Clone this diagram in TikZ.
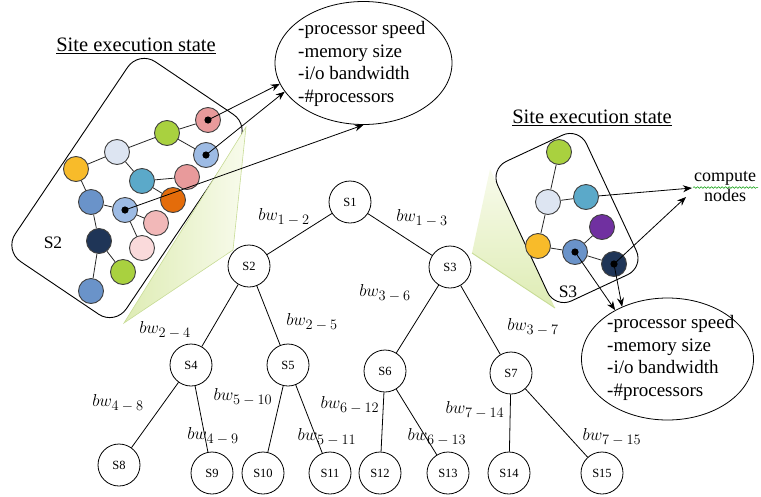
\documentclass[tikz,border=0pt]{standalone}
\usepackage{fontspec}
\setmainfont{Liberation Serif}
\usetikzlibrary{arrows.meta,shapes.geometric,decorations.pathmorphing}

\definecolor{cPink}{RGB}{232,154,155}
\definecolor{cGreen}{RGB}{169,209,63}
\definecolor{cDotBlue}{RGB}{157,187,228}
\definecolor{cPaleBlue}{RGB}{221,229,242}
\definecolor{cYellow}{RGB}{248,187,42}
\definecolor{cTeal}{RGB}{91,169,201}
\definecolor{cMidBlue}{RGB}{106,147,201}
\definecolor{cOrange}{RGB}{228,108,10}
\definecolor{cLightPink}{RGB}{242,184,184}
\definecolor{cNavy}{RGB}{31,53,87}
\definecolor{cPalePink}{RGB}{250,218,219}
\definecolor{cPurple}{RGB}{112,48,160}
\definecolor{gDeep}{RGB}{222,236,180}
\definecolor{gPale}{RGB}{248,251,236}
\definecolor{gEdge}{RGB}{200,220,150}

% bandwidth label: italic bw with a subscript pair
\newcommand{\bwl}[2]{$bw_{\mbox{\fontsize{14}{14}\selectfont$#1-#2$}}$}

\begin{document}
\begin{tikzpicture}[x=1pt,y=-1pt,
  tnode/.style={circle,draw,line width=0.8pt,minimum size=42pt,inner sep=0pt,fill=white,
    font=\fontsize{12.5}{13}\selectfont},
  cnode/.style={circle,draw=black!75,line width=0.9pt,minimum size=25pt,inner sep=0pt},
  bwlab/.style={font=\fontsize{19}{21}\selectfont,inner sep=0pt},
  info/.style={font=\fontsize{19}{22.5}\selectfont,align=left,anchor=west,inner sep=0pt},
  tedge/.style={line width=0.8pt},
  cedge/.style={line width=0.8pt,black!85},
  arr/.style={line width=0.8pt,-{Stealth[length=9pt,width=7pt]}},
  panel/.style={draw,line width=0.9pt,inner sep=0pt},
  heading/.style={font=\fontsize{20.5}{24}\selectfont,inner sep=0pt},
  plabel/.style={font=\fontsize{17.5}{20}\selectfont,inner sep=0pt}
]
\useasboundingbox (0,0) rectangle (761,496);

% ---------- left site panel ----------
\node[panel,rounded corners=20pt,minimum width=241pt,minimum height=134pt,rotate=56] (panL) at (127,188) {};
\shade[left color=gDeep,right color=gPale,draw=gEdge,line width=0.6pt]
  (246,127) -- (233,250) -- (124,323) -- cycle;
\node[heading] (headL) at (136,46) {\underline{Site execution state}};
\node[plabel] (s2lab) at (53,243) {S2};

% compute nodes of site S2
\node[cnode,fill=cPink]      (L1)  at (208,120) {};
\node[cnode,fill=cGreen]     (L2)  at (167,133) {};
\node[cnode,fill=cDotBlue]   (L3)  at (206,155) {};
\node[cnode,fill=cPaleBlue]  (L4)  at (117,152) {};
\node[cnode,fill=cYellow]    (L5)  at (76,169) {};
\node[cnode,fill=cTeal]      (L6)  at (142,181) {};
\node[cnode,fill=cPink]      (L7)  at (187,177) {};
\node[cnode,fill=cMidBlue]   (L8)  at (91,202) {};
\node[cnode,fill=cDotBlue]   (L9)  at (125,210) {};
\node[cnode,fill=cOrange]    (L10) at (173,200) {};
\node[cnode,fill=cLightPink] (L11) at (156,223) {};
\node[cnode,fill=cNavy]      (L12) at (99,241) {};
\node[cnode,fill=cPalePink]  (L13) at (142,248) {};
\node[cnode,fill=cGreen]     (L14) at (123,272) {};
\node[cnode,fill=cMidBlue]   (L15) at (91,291) {};

\draw[cedge] (L2) -- (L1);
\draw[cedge] (L2) -- (L3);
\draw[cedge] (L2) -- (L4);
\draw[cedge] (L4) -- (L5);
\draw[cedge] (L4) -- (L6);
\draw[cedge] (L6) -- (L7);
\draw[cedge] (L6) -- (L10);
\draw[cedge] (L5) -- (L8);
\draw[cedge] (L8) -- (L9);
\draw[cedge] (L9) -- (L11);
\draw[cedge] (L9) -- (L13);
\draw[cedge] (L8) -- (L12);
\draw[cedge] (L12) -- (L14);
\draw[cedge] (L12) -- (L15);

\foreach \n in {L1,L3,L9} \fill[black] (\n.center) circle (3.6pt);

% ---------- right site panel ----------
\shade[top color=gPale,bottom color=gDeep]
  (472,253) -- (490,169) -- (555,308) -- cycle;
\draw[gEdge,line width=0.9pt] (472,253) -- (555,308);
\node[panel,rounded corners=18pt,minimum width=154pt,minimum height=98pt,rotate=-65] (panR) at (567,218) {};
\node[heading] (headR) at (592,118) {\underline{Site execution state}};
\node[plabel] (s3lab) at (568,292) {S3};

\node[cnode,fill=cGreen]    (R1) at (559,152) {};
\node[cnode,fill=cPaleBlue] (R2) at (548,202) {};
\node[cnode,fill=cTeal]     (R3) at (586,197) {};
\node[cnode,fill=cPurple]   (R4) at (602,227) {};
\node[cnode,fill=cYellow]   (R5) at (538,246) {};
\node[cnode,fill=cMidBlue]  (R6) at (575,252) {};
\node[cnode,fill=cNavy]     (R7) at (614,264) {};
\draw[cedge] (R1) -- (R2);
\draw[cedge] (R2) -- (R3);
\draw[cedge] (R2) -- (R5);
\draw[cedge] (R5) -- (R6);
\draw[cedge] (R6) -- (R4);
\draw[cedge] (R6) -- (R7);
\fill[black] (R6.center) circle (3.6pt);
\fill[black] (R7.center) circle (3.6pt);

% ---------- resource attribute ellipses ----------
\node[ellipse,draw,line width=0.8pt,minimum width=177pt,minimum height=123pt,inner sep=0pt] (ellA) at (363.5,63) {};
\node[info] (txtA) at (298,64) {-processor speed\\-memory size\\-i/o bandwidth\\-\#processors};
\node[ellipse,draw,line width=0.8pt,minimum width=172pt,minimum height=122pt,inner sep=0pt] (ellB) at (667.5,359) {};
\node[info] (txtB) at (607,358) {-processor speed\\-memory size\\-i/o bandwidth\\-\#processors};

\node[font=\fontsize{18}{20}\selectfont,align=center,inner sep=0pt] (cmp) at (725,187) {compute\\nodes};
\coordinate (wavyA) at (693,187.5);
\coordinate (wavyB) at (758,187.5);
\draw[green!60!black,line width=0.5pt,decorate,decoration={snake,amplitude=0.8pt,segment length=3.5pt}]
  (wavyA) -- (wavyB);

\coordinate (tipC1) at (692,188);
\coordinate (tipC2) at (686,197);

\draw[arr] (L1.center) -- (ellA.194.4);
\draw[arr] (L3.center) -- (ellA.200.2);
\draw[arr] (L9.center) -- (ellA.270);
\draw[arr] (R3) -- (tipC1);
\draw[arr] (R7.center) -- (tipC2);
\draw[arr] (R6.center) -- (ellB.137.5);
\draw[arr] (R7.center) -- (ellB.131);

% ---------- site hierarchy ----------
\node[tnode] (S1)  at (350,202) {S1};
\node[tnode] (S2)  at (249,266) {S2};
\node[tnode] (S3)  at (450,267) {S3};
\node[tnode] (S4)  at (191,365) {S4};
\node[tnode] (S5)  at (288,365) {S5};
\node[tnode] (S6)  at (385,371) {S6};
\node[tnode] (S7)  at (511,373) {S7};
\node[tnode] (S8)  at (119,465) {S8};
\node[tnode] (S9)  at (212,473) {S9};
\node[tnode] (S10) at (263,473) {S10};
\node[tnode] (S11) at (330,473) {S11};
\node[tnode] (S12) at (380,473) {S12};
\node[tnode] (S13) at (448,473) {S13};
\node[tnode] (S14) at (509,473) {S14};
\node[tnode] (S15) at (602,473) {S15};

\draw[tedge] (S1) -- (S2);
\draw[tedge] (S1) -- (S3);
\draw[tedge] (S2) -- (S4);
\draw[tedge] (S2) -- (S5);
\draw[tedge] (S3) -- (S6);
\draw[tedge] (S3) -- (S7);
\draw[tedge] (S4) -- (S8);
\draw[tedge] (S4) -- (S9);
\draw[tedge] (S5) -- (S10);
\draw[tedge] (S5) -- (S11);
\draw[tedge] (S6) -- (S12);
\draw[tedge] (S6) -- (S13);
\draw[tedge] (S7) -- (S14);
\draw[tedge] (S7) -- (S15);

\node[bwlab] (b12)  at (284,217) {\bwl{1}{2}};
\node[bwlab] (b13)  at (422,218) {\bwl{1}{3}};
\node[bwlab] (b24)  at (165,330) {\bwl{2}{4}};
\node[bwlab] (b25)  at (312,322) {\bwl{2}{5}};
\node[bwlab] (b36)  at (385,293) {\bwl{3}{6}};
\node[bwlab] (b37)  at (533,327) {\bwl{3}{7}};
\node[bwlab] (b48)  at (118,403) {\bwl{4}{8}};
\node[bwlab] (b49)  at (213,436) {\bwl{4}{9}};
\node[bwlab] (b510) at (243,397) {\bwl{5}{10}};
\node[bwlab] (b511) at (327,437) {\bwl{5}{11}};
\node[bwlab] (b612) at (350,405) {\bwl{6}{12}};
\node[bwlab] (b613) at (437,437) {\bwl{6}{13}};
\node[bwlab] (b714) at (475,410) {\bwl{7}{14}};
\node[bwlab] (b715) at (612,437) {\bwl{7}{15}};
\end{tikzpicture}
\end{document}
